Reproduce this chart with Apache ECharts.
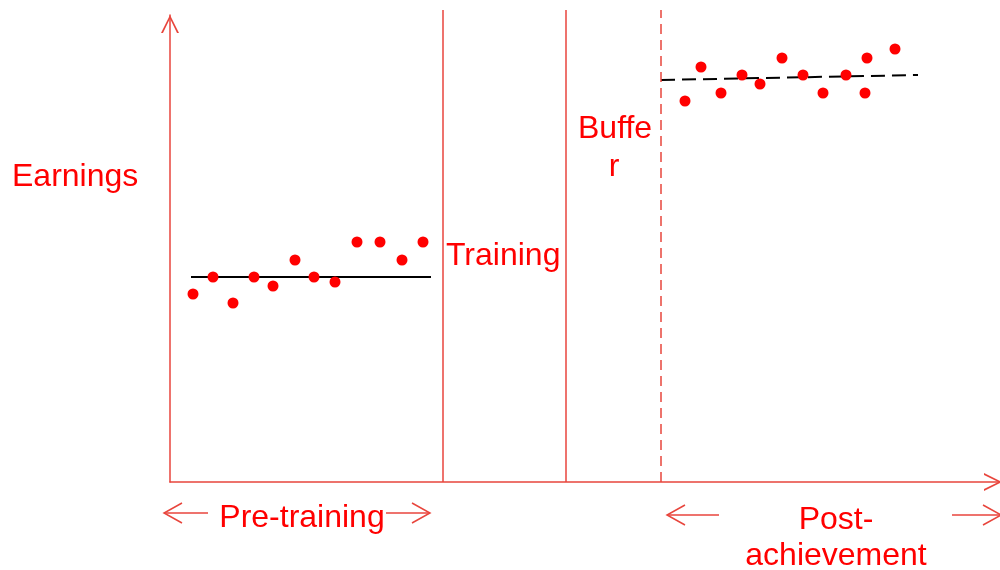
<!DOCTYPE html>
<html>
<head>
<meta charset="utf-8">
<script src="https://cdn.jsdelivr.net/npm/echarts@6/dist/echarts.min.js"></script>
<style>html,body{margin:0;padding:0;background:#fff}#c{width:1000px;height:570px}</style>
</head>
<body>
<div id="c"></div>
<script>
// Time (arbitrary units) and earnings (arbitrary units)
const preX = [2.3, 4.3, 6.3, 8.4, 10.3, 12.5, 14.4, 16.5, 18.7, 21.0, 23.2, 25.3];
const preY = [18.8, 20.5, 17.9, 20.5, 19.6, 22.2, 20.5, 20.0, 24.0, 24.0, 22.2, 24.0];
const postX = [51.5, 53.1, 55.1, 57.2, 59.0, 61.2, 63.3, 65.3, 67.6, 69.5, 69.7, 72.5];
const postY = [38.1, 41.5, 38.9, 40.7, 39.8, 42.4, 40.7, 38.9, 40.7, 38.9, 42.4, 43.3];
const preTrendX = [2.1, 26.1];
const preTrendY = [20.5, 20.5];
const postTrendX = [49.1, 74.8];
const postTrendY = [40.2, 40.7];
const phaseBoundaries = [27.3, 39.6];   // solid lines (training start, buffer start)
const postStart = 49.1;                  // dashed line (post-achievement start)
const xMax = 83, yMax = 46.7, lineTop = 47.2;

const RED = '#ff0000';
const AXIS = '#e8453c';
const FONT = '"Liberation Sans", Arial, sans-serif';
const chevron = 'path://M0,20 L10,0 L20,20 L17.8,20 L10,4 L2.2,20 Z';

const zip = (xs, ys) => xs.map((x, i) => [x, ys[i]]);

function arrowGroup(x1, x2, y, leftHead, rightHead) {
  const children = [{type: 'line', shape: {x1, y1: y, x2, y2: y}, style: {stroke: AXIS, lineWidth: 1.5}}];
  if (leftHead) children.push({type: 'polyline', shape: {points: [[x1 + 18, y - 10], [x1, y], [x1 + 18, y + 10]]}, style: {stroke: AXIS, lineWidth: 1.5, fill: null}});
  if (rightHead) children.push({type: 'polyline', shape: {points: [[x2 - 18, y - 10], [x2, y], [x2 - 18, y + 10]]}, style: {stroke: AXIS, lineWidth: 1.5, fill: null}});
  return {type: 'group', children};
}
function txt(x, y, s, align) {
  return {type: 'text', x, y, style: {text: s, fill: RED, font: '32px ' + FONT, textAlign: align || 'center', textVerticalAlign: 'middle'}};
}
const hiddenAxis = {show: false, axisLine: {show: false}, axisTick: {show: false}, axisLabel: {show: false}, splitLine: {show: false}};

const chart = echarts.init(document.getElementById('c'), null, {renderer: 'canvas'});
chart.setOption({
  animation: false,
  backgroundColor: '#fff',
  grid: [
    {left: 170, right: 0, top: 15, bottom: 88},
    {left: 170, right: 0, top: 10, bottom: 88}
  ],
  xAxis: [
    {
      type: 'value', min: 0, max: xMax, gridIndex: 0,
      axisLine: {show: true, lineStyle: {color: AXIS, width: 1.5}, symbol: ['none', chevron], symbolSize: [20, 18], symbolOffset: [0, -7]},
      axisTick: {show: false}, axisLabel: {show: false}, splitLine: {show: false}
    },
    Object.assign({type: 'value', min: 0, max: xMax, gridIndex: 1}, hiddenAxis)
  ],
  yAxis: [
    {
      type: 'value', min: 0, max: yMax, gridIndex: 0,
      axisLine: {show: true, lineStyle: {color: AXIS, width: 1.5}, symbol: ['none', chevron], symbolSize: [20, 18], symbolOffset: [0, -9]},
      axisTick: {show: false}, axisLabel: {show: false}, splitLine: {show: false}
    },
    Object.assign({type: 'value', min: 0, max: lineTop, gridIndex: 1}, hiddenAxis)
  ],
  series: [
    {
      type: 'scatter', data: zip(preX, preY), symbolSize: 11, z: 3,
      itemStyle: {color: RED, opacity: 1}
    },
    {
      type: 'scatter', data: zip(postX, postY), symbolSize: 11, z: 3,
      itemStyle: {color: RED, opacity: 1}
    },
    {
      type: 'line', data: zip(preTrendX, preTrendY), showSymbol: false, symbol: 'none',
      lineStyle: {color: '#000', width: 2}, z: 2
    },
    {
      type: 'line', data: zip(postTrendX, postTrendY), showSymbol: false, symbol: 'none',
      lineStyle: {color: '#000', width: 2, type: [14, 7]}, z: 2
    },
    {
      type: 'line', xAxisIndex: 1, yAxisIndex: 1, data: [], z: 1,
      markLine: {
        silent: true, symbol: 'none', label: {show: false},
        lineStyle: {color: AXIS, width: 1.5, type: 'solid'},
        data: phaseBoundaries.map(x => [{coord: [x, 0]}, {coord: [x, lineTop]}])
      }
    },
    {
      type: 'line', xAxisIndex: 1, yAxisIndex: 1, data: [], z: 1,
      markLine: {
        silent: true, symbol: 'none', label: {show: false},
        lineStyle: {color: AXIS, width: 1.5, type: [10, 6]},
        data: [[{coord: [postStart, 0]}, {coord: [postStart, lineTop]}]]
      }
    }
  ],
  graphic: [
    txt(12, 177, 'Earnings', 'left'),
    txt(446, 256, 'Training', 'left'),
    txt(578, 129, 'Buffe', 'left'),
    txt(614, 167, 'r'),
    txt(302, 518, 'Pre-training'),
    txt(836, 520, 'Post-'),
    txt(836, 556, 'achievement'),
    arrowGroup(164, 208, 513, true, false),
    arrowGroup(386, 430, 513, false, true),
    arrowGroup(667, 719, 515, true, false),
    arrowGroup(952, 1001, 515, false, true)
  ]
});
</script>
</body>
</html>
